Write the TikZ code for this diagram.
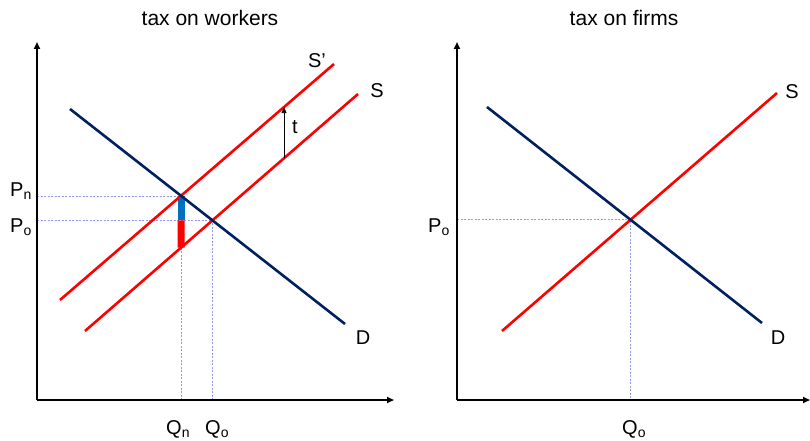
\documentclass[tikz,border=0pt]{standalone}
\usepackage{fontspec}
\setmainfont{Liberation Sans}
\usetikzlibrary{arrows.meta, positioning, calc}
\definecolor{demandblue}{RGB}{0, 32, 96}
\definecolor{supplyred}{RGB}{255, 0, 0}
\definecolor{wedgeblue}{RGB}{0, 112, 192}
\definecolor{guidelilac}{RGB}{150, 150, 235}

\begin{document}
\begin{tikzpicture}[
  x=1pt, y=-1pt,
  font=\fontsize{20}{23}\selectfont,
  axis/.style={-{Triangle[length=7pt, width=6pt]}, line width=1.7pt, color=black},
  demand/.style={line width=2.6pt, color=demandblue},
  supply/.style={line width=2.6pt, color=supplyred},
  guide/.style={dash pattern=on 2pt off 1.5pt, line width=0.5pt, color=guidelilac},
  wedge/.style={line width=7pt, color=#1},
  taxarrow/.style={-{Triangle[length=6pt, width=5pt]}, line width=0.8pt, color=black},
  title/.style={font=\fontsize{21}{24}\selectfont},
  lbl/.style={inner sep=0pt},
]
\useasboundingbox (0,0) rectangle (810,441);

% Left panel: tax on workers
\coordinate (lo) at (37,400);
\coordinate (ly) at (37,42);
\coordinate (lx) at (394,400);
\coordinate (ld1) at (70,109);
\coordinate (ld2) at (345,324);
\coordinate (ls1) at (85,331);
\coordinate (ls2) at (358,94);
\coordinate (lt1) at (60,300);
\coordinate (lt2) at (334,64);
\coordinate (pn) at (intersection of ld1--ld2 and lt1--lt2);
\coordinate (po) at (intersection of ld1--ld2 and ls1--ls2);
\coordinate (qn) at (pn |- lo);
\coordinate (qo) at (po |- lo);
\coordinate (pnax) at (pn -| lo);
\coordinate (poax) at (po -| lo);
\coordinate (wmid) at (pn |- po);
\coordinate (wlow) at (intersection of pn--qn and ls1--ls2);
\coordinate (tx) at (284,0);
\coordinate (tbot) at (intersection of tx--{284,441} and ls1--ls2);
\coordinate (ttop) at (intersection of tx--{284,441} and lt1--lt2);

\draw[guide] (pnax) -- (pn) -- (qn);
\draw[guide] (poax) -- (po) -- (qo);
\draw[wedge=wedgeblue] (pn) -- (wmid);
\draw[wedge=supplyred] (wmid) -- (wlow);
\draw[axis] (lo) -- (ly);
\draw[axis] (lo) -- (lx);
\draw[supply] (lt1) -- (lt2);
\draw[supply] (ls1) -- (ls2);
\draw[demand] (ld1) -- (ld2);
\draw[taxarrow] (tbot) -- (ttop);

\node[title] (ltitle) at (210,18) {tax on workers};
\node[lbl, anchor=base east] (lpn) at (32,196) {P\textsubscript{n}};
\node[lbl, anchor=base east] (lpo) at (32,232) {P\textsubscript{o}};
\node[lbl, anchor=base west] (lqn) at (166,434) {Q\textsubscript{n}};
\node[lbl, anchor=base west] (lqo) at (205,434) {Q\textsubscript{o}};
\node[lbl] (lsp) at (317,61) {S’};
\node[lbl] (lsl) at (377,91) {S};
\node[lbl] (ldl) at (363,338) {D};
\node[lbl] (ltl) at (295,127) {t};

% Right panel: tax on firms
\coordinate (ro) at (457,400);
\coordinate (ry) at (457,42);
\coordinate (rx) at (810,400);
\coordinate (rd1) at (487,107);
\coordinate (rd2) at (762,323);
\coordinate (rs1) at (502,331);
\coordinate (rs2) at (777,93);
\coordinate (rpo) at (intersection of rd1--rd2 and rs1--rs2);
\coordinate (rqo) at (rpo |- ro);
\coordinate (rpoax) at (rpo -| ro);

\draw[guide] (rpoax) -- (rpo) -- (rqo);
\draw[axis] (ro) -- (ry);
\draw[axis] (ro) -- (rx);
\draw[supply] (rs1) -- (rs2);
\draw[demand] (rd1) -- (rd2);

\node[title] (rtitle) at (624,18) {tax on firms};
\node[lbl, anchor=base east] (rpol) at (450,232) {P\textsubscript{o}};
\node[lbl, anchor=base west] (rqol) at (622,434) {Q\textsubscript{o}};
\node[lbl] (rsl) at (792,92) {S};
\node[lbl] (rdl) at (778,338) {D};

\end{tikzpicture}
\end{document}
